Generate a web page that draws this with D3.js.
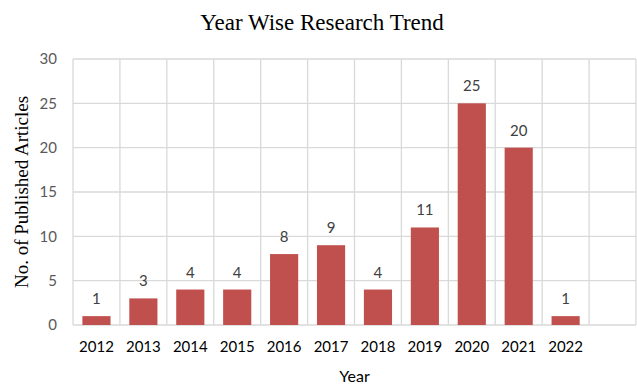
<!DOCTYPE html>
<html><head><meta charset="utf-8">
<script src="https://cdn.jsdelivr.net/npm/d3@7"></script>
<style>body{margin:0;background:#fff}svg{display:block}</style>
</head><body>
<script>
const years = ["2012","2013","2014","2015","2016","2017","2018","2019","2020","2021","2022"];
const articles = [1,3,4,4,8,9,4,11,25,20,1];
const yTicks = [0,5,10,15,20,25,30];
const title = "Year Wise Research Trend";
const xTitle = "Year";
const yTitle = "No. of Published Articles";

const W = 637, H = 387;
const m = {left:73, right:1, top:59, bottom:62};
const svg = d3.select("body").append("svg").attr("width",W).attr("height",H);

const slots = years.concat([""]);
const x = d3.scaleBand().domain(slots).range([m.left, W - m.right]).paddingInner(0.4).paddingOuter(0.2);
const y = d3.scaleLinear().domain([0,30]).range([325, m.top]);
const step = x.step();
const gridColor = "#d9d9d9";

svg.append("g").selectAll("line").data(yTicks).join("line")
  .attr("x1", m.left).attr("x2", W - m.right)
  .attr("y1", d => y(d)).attr("y2", d => y(d))
  .attr("stroke", gridColor).attr("stroke-width", 1.3);
svg.append("g").selectAll("line").data(d3.range(slots.length + 1)).join("line")
  .attr("x1", i => m.left + i*step).attr("x2", i => m.left + i*step)
  .attr("y1", y(0)).attr("y2", y(30))
  .attr("stroke", gridColor).attr("stroke-width", 1.3);

const yAxis = d3.axisLeft(y).tickValues(yTicks).tickSize(0).tickPadding(16);
const gy = svg.append("g").attr("transform", `translate(${m.left},0)`).call(yAxis);
gy.select(".domain").remove();
gy.selectAll("text").attr("font-family","Lato, 'Open Sans', sans-serif").attr("font-size",15).attr("fill","#595959");

const xAxis = d3.axisBottom(x).tickValues(years).tickSize(0).tickPadding(16);
const gx = svg.append("g").attr("transform", `translate(0,${y(0)})`).call(xAxis);
gx.select(".domain").remove();
gx.selectAll("text").attr("font-family","Lato, 'Open Sans', sans-serif").attr("font-size",15).attr("fill","#000");

svg.append("g").selectAll("rect").data(years).join("rect")
  .attr("x", d => x(d)).attr("width", x.bandwidth())
  .attr("y", (d,i) => y(articles[i])).attr("height", (d,i) => y(0) - y(articles[i]))
  .attr("fill", "#c0504d");

svg.append("g").selectAll("text").data(years).join("text")
  .attr("x", d => x(d) + x.bandwidth()/2)
  .attr("y", (d,i) => y(articles[i]) - 12)
  .attr("text-anchor","middle")
  .attr("font-family","Lato, 'Open Sans', sans-serif").attr("font-size",15).attr("fill","#404040")
  .text((d,i) => articles[i]);

svg.append("text").attr("x", 322).attr("y", 30).attr("text-anchor","middle")
  .attr("font-family","'Liberation Serif', 'Times New Roman', serif").attr("font-size",23).attr("fill","#000")
  .text(title);
svg.append("text").attr("x", (m.left + W - m.right)/2).attr("y", 382).attr("text-anchor","middle")
  .attr("font-family","Lato, 'Open Sans', sans-serif").attr("font-size",16).attr("fill","#000")
  .text(xTitle);
svg.append("text").attr("transform", `translate(28,${(y(0)+y(30))/2}) rotate(-90)`).attr("text-anchor","middle")
  .attr("font-family","'Liberation Serif', 'Times New Roman', serif").attr("font-size",19).attr("fill","#000")
  .text(yTitle);
</script>
</body></html>
